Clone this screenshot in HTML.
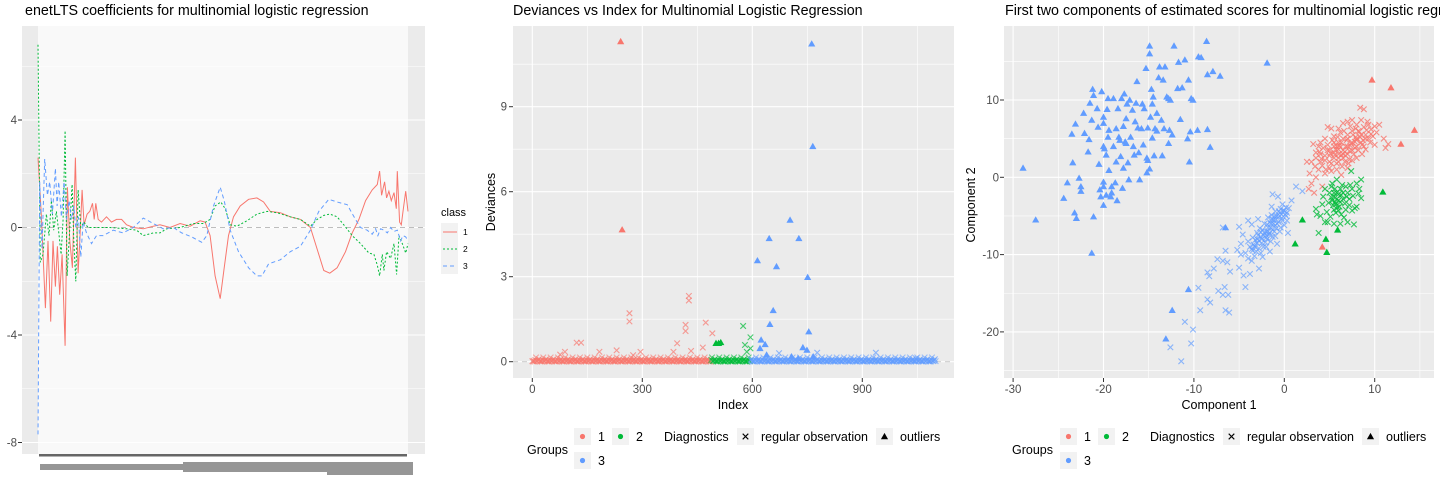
<!DOCTYPE html>
<html><head><meta charset="utf-8"><style>
html,body{margin:0;padding:0;background:#fff;}
svg{display:block;font-family:"Liberation Sans",sans-serif;}
</style></head><body>
<svg id="root" width="1440" height="480" viewBox="0 0 1440 480" xmlns="http://www.w3.org/2000/svg">
<g id="p1"></g>
<g id="p2"></g>
<g id="p3"></g>
</svg>
<script>
// ---------- Panel 1 data: coefficient index (0..1107) and values ----------
const c1Idx=[0,10,22,30,38,45,52,58,65,72,81,88,95,103,112,120,125,132,138,147,155,163,168,173,180,190,205,220,235,250,265,285,315,345,365,395,425,455,485,500,515,530,545,557,570,585,605,630,655,675,695,725,755,785,815,835,855,873,895,920,940,960,980,1000,1015,1022,1028,1037,1043,1050,1057,1065,1072,1075,1082,1087,1092,1100,1107];
const c1Val=[2.6,0.5,-3.0,-0.5,-3.5,-0.5,-2.2,-0.7,-2.5,-1.0,-4.4,1.5,-0.5,-1.5,2.6,-1.7,-0.5,1.4,0.1,0.5,0.6,0.9,0.3,0.9,0.3,0.2,0.4,0.2,0.3,0.3,0.1,0.0,-0.05,0.05,0.1,0.0,0.15,0.05,0.25,0.2,-0.3,-1.8,-2.65,-1.5,-0.3,0.4,0.8,1.05,1.1,0.95,0.6,0.55,0.4,0.3,0.0,-0.8,-1.6,-1.7,-1.5,-0.9,-0.2,0.3,1.0,1.4,1.6,2.1,1.2,1.7,1.1,1.35,1.0,1.3,0.7,2.1,0.2,0.1,0.6,1.35,0.6];
const c2Idx=[0,7,15,25,33,40,47,55,63,69,75,81,87,95,102,107,113,120,128,137,150,170,215,265,295,315,345,365,385,425,465,495,515,530,547,560,575,595,625,655,685,715,755,785,815,835,855,873,895,915,940,965,990,1005,1015,1022,1030,1035,1043,1055,1065,1073,1080,1090,1100,1107];
const c2Val=[6.8,-1.3,-1.0,0.5,-0.3,1.0,-0.1,0.6,-0.3,-1.0,0.3,3.6,-1.8,0.0,1.6,-0.5,-2.0,1.4,0.0,0.2,0.0,0.0,0.0,-0.05,-0.1,-0.3,-0.2,-0.2,-0.05,0.0,0.15,0.15,0.3,0.8,0.95,0.7,0.1,0.05,0.25,0.5,0.6,0.55,0.4,0.3,0.05,0.3,0.45,0.5,0.4,0.1,-0.3,-0.6,-0.95,-1.0,-1.4,-1.8,-1.0,-1.6,-0.9,-1.15,-0.6,-1.75,-0.3,-0.6,-0.95,-0.6];
const c3Idx=[0,5,12,20,28,35,43,52,57,62,70,78,85,93,100,107,113,121,128,135,145,160,175,195,225,255,285,315,345,375,405,430,460,490,505,525,545,557,575,600,630,655,670,690,725,755,785,815,840,870,895,925,950,965,985,1000,1010,1017,1025,1035,1045,1055,1065,1075,1085,1092,1100,1107];
const c3Val=[-7.7,1.7,-0.8,2.55,1.2,1.7,0.5,2.2,0.8,1.7,0.4,1.7,0.3,1.0,0.3,0.8,0.0,0.4,-1.1,0.2,-0.2,-0.6,-0.3,-0.3,-0.1,-0.2,0.0,0.35,0.15,-0.05,0.0,-0.2,-0.35,-0.55,-0.3,0.8,1.5,1.0,-0.1,-0.9,-1.5,-1.8,-1.8,-1.35,-1.2,-0.9,-0.7,-0.1,0.6,1.05,0.95,0.85,0.3,0.0,-0.1,-0.25,-0.05,-0.3,-0.05,-0.1,-0.2,0.0,-0.15,-0.1,-0.5,-0.3,-0.35,-0.5];
const p1YTicks=[4,0,-4,-8];

// ---------- Panel 2 data: deviances ----------
const p2XTicks=[0,300,600,900];
const p2YTicks=[0,3,6,9];
const groupRanges=[[0,487],[488,595],[596,1100]];
const baseDev=[0.02,0.05,0.01,0.08,0.03,0.12,0.0,0.04,0.06,0.02,0.15,0.01,0.03,0.07,0.02,0.1,0.05,0.0,0.09,0.03];
const devRegIdx=[121,133,265,265,427,427,418,418,473,491,395,465,385,433,183,89,230,295,76,275,575,595,580,595,585,673,777,937,1046];
const devRegVal=[0.67,0.67,1.71,1.42,2.32,2.16,1.3,1.08,1.38,1.0,0.65,0.5,0.35,0.38,0.35,0.35,0.4,0.35,0.25,0.23,1.26,0.86,0.59,0.47,0.35,0.3,0.32,0.32,0.12];
const devRegGrp=[1,1,1,1,1,1,1,1,1,1,1,1,1,1,1,1,1,1,1,1,2,2,2,2,2,3,3,3,3];
const devOutIdx=[241,245,501,508,514,762,765,703,727,646,614,666,751,657,648,754,624,635,621,738,749,639,707,766,725];
const devOutVal=[11.3,4.66,0.65,0.65,0.68,11.22,7.6,5.0,4.35,4.35,3.57,3.36,2.98,1.81,1.32,1.06,0.77,0.61,0.47,0.5,0.41,0.24,0.18,0.18,0.12];
const devOutGrp=[1,1,2,2,2,3,3,3,3,3,3,3,3,3,3,3,3,3,3,3,3,3,3,3,3];

// ---------- Panel 3 data: scores (component 1, component 2) ----------
const p3XTicks=[-30,-20,-10,0,10];
const p3YTicks=[10,0,-10,-20];
const blueOutC1=[-28.9,-27.5,-24.4,-24.0,-23.2,-23.0,-23.1,-23.5,-23.4,-22.7,-22.5,-22.5,-22.2,-22.1,-21.7,-21.6,-21.5,-21.3,-21.2,-21.1,-21.1,-21.3,-20.7,-20.6,-20.5,-20.4,-20.3,-20.2,-20.0,-20.0,-20.0,-19.9,-20.0,-20.0,-20.0,-19.7,-19.7,-19.6,-19.5,-19.4,-19.5,-19.4,-19.2,-19.1,-19.1,-18.9,-18.9,-18.7,-18.6,-18.6,-18.5,-18.4,-18.3,-18.2,-18.1,-18.0,-17.9,-17.8,-17.8,-17.7,-17.6,-17.5,-17.5,-17.4,-17.3,-17.2,-17.1,-17.0,-16.8,-16.7,-16.6,-16.5,-16.4,-16.3,-16.2,-16.1,-16.0,-15.8,-15.7,-15.6,-15.5,-15.3,-15.2,-15.2,-15.1,-15.1,-14.9,-14.9,-14.9,-14.8,-14.7,-14.6,-14.6,-14.5,-14.4,-14.3,-14.1,-14.1,-13.9,-13.8,-13.6,-13.5,-13.4,-13.3,-13.2,-13.0,-12.8,-12.8,-12.7,-12.6,-12.4,-12.2,-11.8,-11.7,-11.5,-11.3,-11.0,-10.7,-10.6,-10.5,-10.4,-10.3,-10.1,-9.6,-9.5,-9.2,-8.6,-8.5,-8.5,-8.2,-7.9,-7.1,-1.9,-6.5,-10.6,-12.4,-13.1];
const blueOutC2=[1.2,-5.5,-2.7,-0.7,-4.6,-5.3,6.9,5.6,1.9,-0.1,-1.2,-1.8,8.3,5.7,3.3,4.9,9.6,7.4,11.4,10.6,-5.1,-9.8,8.9,6.5,1.7,-1.6,-2.5,11.1,7.8,7.0,4.0,3.7,-0.6,-1.2,-3.6,-2.3,2.9,8.8,10.2,6.1,5.2,0.9,-2.5,-2.0,-1.2,10.2,4.0,-0.7,6.3,2.0,-3.0,8.9,5.2,4.8,2.7,10.2,-1.4,6.6,1.2,10.8,4.6,4.4,7.6,9.5,1.9,-0.3,10.0,5.2,8.7,4.0,2.9,7.2,9.6,12.4,6.4,3.2,-0.3,6.3,9.5,4.2,8.9,14.1,0.6,2.5,2.2,6.4,1.1,16.0,17.0,7.8,11.4,5.1,9.5,10.4,2.8,6.3,6.0,8.3,12.9,14.3,7.4,2.8,12.6,6.3,14.3,10.4,10.2,4.4,6.1,10.0,5.5,17.0,11.5,14.9,7.5,11.6,15.2,5.0,12.6,2.0,5.9,10.2,10.0,6.1,15.6,15.5,17.6,6.2,13.3,3.9,13.7,13.1,14.8,-6.5,-14.5,-17.2,-20.9];
const redOutC1=[9.7,11.8,14.4,12.9,4.2];
const redOutC2=[12.6,11.6,6.1,4.3,-9.0];
const greenOutC1=[10.9,2.0,1.2,4.6,5.9,4.7];
const greenOutC2=[-1.9,-5.5,-8.6,-8.0,-6.8,-9.7];
const blueRegC1=[-6.5,-6.8,-7.4,-6.3,-7.8,-8.5,-8.3,-6,-4.5,-4.3,-9.5,-7.3,-6.6,-6.8,-6.2,-8.2,-8.5,-9.3,-6.5,-6.1,-11,-10.1,-12.6,-10.3,-11.4,-5,-3.6,-4.8,-5,-4,-6.8,1.3,2,0.8,-2.8,-3.8,-3.5,-3.2,-3,-2.8,-2.5,-2.3,-2,-2,-1.8,-1.6,-1.5,-1.3,-1.2,-1,-0.8,-0.6,-0.5,-0.3,0,0.2,0.3,-2.7,-3,-3.5,-4,-3.8,-4.3,-4,-3.3,-2.6,-2,-1.5,-1,-0.5,0,0.3,0.5,-0.2,-1,-1.8,-2.2,-2.9,-1.4,-0.7,-1.3,-3.6,-4.6,-4.8,-2.4,-1.6,-0.8,0.4,-5.2,-1.1,-1.9,-2.6,-3.2,-0.4,-2.1,-1.7,-0.9,-1.4,-2.4,-3.4,
 -1.5,-1,-2,-0.5,-2.5,-1.2,-1.8,-0.8,-2.2,-0.3,-3,-1.6,-2.8,-0.6,0.1,-1.1,-2.3,-3.1,-1.4,-0.2,-1.9,-0.9,-2.6,-3.6,-1.3,-0.4,0.2,-0.1,-2.9,-3.3];
const blueRegC2=[-9.5,-10.8,-10.6,-11,-11.8,-12.3,-12.8,-12.2,-12.7,-14.2,-14.3,-14.7,-14.2,-15.2,-15.2,-16.2,-15.8,-17.2,-17.2,-17.5,-18.7,-19.7,-22,-21.5,-23.8,-11.7,-10.8,-10,-6.4,-5.6,-6.5,-1.2,-1.8,-3,-11.8,-12.5,-9.5,-9,-8.5,-9.2,-8,-7.5,-7.8,-7,-6.5,-7.2,-6,-6.8,-5.5,-6.2,-5,-5.8,-4.6,-5.3,-4.3,-5,-4.6,-6.6,-7.2,-7.8,-8.3,-9,-9.8,-10.5,-10.2,-9.8,-9,-8.3,-7.6,-7,-6.2,-5.6,-4,-3.5,-4.4,-5.2,-6,-5.4,-3.8,-2.5,-2.2,-6.1,-7.4,-8.6,-10.3,-9.6,-8.6,-7.2,-9.4,-5.1,-6.1,-7.1,-8.1,-4.1,-8.4,-7.4,-6.6,-4.9,-6.8,-8.7,
 -6.5,-5.5,-7.5,-5,-8.5,-6,-7,-6,-7.2,-4.8,-8,-5.8,-8.2,-4.4,-4.8,-7,-9,-9.6,-5.4,-5.6,-8,-5.1,-7.7,-9.3,-7.7,-6.5,-3.9,-4.3,-7.5,-8.9];
const redRegC1=[3,3.5,4,4.2,4.5,4.8,5,5.2,5.5,5.8,6,6,6.3,6.5,6.7,6.8,7,7.2,7.4,7.6,7.8,8,8.2,8.4,8.6,8.8,9,9.3,9.6,10,10.5,11,11.5,11.2,8.4,8.8,7,6.5,5.2,4.8,5.5,4.5,3.8,3.2,2.5,2.8,3.5,3,2.7,3.3,4.2,4.5,5.2,5.8,6.3,7,7.5,8,8.6,9,9.5,9.8,6.2,5.5,4,3.8,7.5,8.5,10,10.2,9.2,6,7.9,
 5,5.5,6,6.5,7,7.5,8,8.5,5,5.5,6,6.5,7,7.5,6,6.5,7,7.5,8,8.5,9,4,4.5,5,5.8,6.8,7.2,7.7,8.2,8.8,9.3,5.3,5.9,6.6,7.3,8,4.3,3.5,4.8,6.2,7.8,6.9,5.6,4.6,3.4,8.3,9.6,7.1,6.4,5.1,6.7,7.9,9.1,8.7,4.1,3.9,6.1,7.3,5.7,6.3];
const redRegC2=[2,2.5,3,1.5,2.2,3.5,2.8,1.8,3.2,4,2.5,3.6,4.5,3,2,4,5,3.4,4.4,5.5,3.8,4.8,6,5.2,4.2,6.5,5.5,6.8,6.2,6.6,6.8,5,4.3,3.8,9,8.8,7.2,7,6.3,6.5,5.3,5,4,4.3,2,0.5,0,-0.8,-1.5,-2,-1.2,0.5,0.8,1,0.3,1.2,2.2,2.5,3,3.6,4.5,5.3,5.8,4.5,4.5,1,7.4,7.4,4.2,5.8,7.2,6.3,6.3,
 2,2.5,3,3.5,4,4.5,5,5.5,3.5,4,4.5,5,5.5,6,2,2.5,3,3.5,4,4.5,5,2,2.8,1.2,1.8,2.8,2.3,3,3.5,4,5,4.8,5.2,6,6.6,6.8,3.8,3.2,4.2,3.9,4.6,4.8,2.9,1,1.4,5.9,5.6,1.8,1.4,3.1,3.3,5.2,6.1,4.8,2.4,3.3,4.1,4.1,3.6,2.9];
const greenRegC1=[4.5,5,5.3,5.5,5.7,5.8,6,6.2,6.5,6.8,7,7.3,7.5,8,8.3,8.5,8.5,8,7.8,7.5,6.8,6,5.5,4.2,3.6,3.5,4,4.8,5.5,6.2,7,7.7,4.5,3.8,5.8,7.4,6.3,5.6,6.1,5.2,
 5.5,5.8,6,6.2,5.4,5.9,6.5,6.7,5.2,4.9,6.9,5.6,6.4,7.2,5.7,6.3,4.7,7.6,8.2,5.3,4.3,6.6,5.1,7.2];
const greenRegC2=[-1.5,-2,-3,-2.5,-3.5,-2,-3,-1.5,-2.8,-1.2,-2,-1,-1.5,-0.8,-1.5,-0.3,-2.7,-3.8,-4,-4.3,-4.2,-4.3,-4.2,-3.5,-4.8,-4.1,-5,-5.8,-6,-6,-5.8,-6.1,-5.8,-7.2,-0.3,0.8,-2.3,-3.2,-3.8,-1.2,
 -2,-2.8,-2.2,-3.2,-3.6,-3.9,-2,-3.4,-2.6,-3.3,-2.5,-1.5,-1,-2.8,-4.6,-4.8,-4.5,-2.4,-2.1,-0.8,-2.5,-5.2,-5.1,-3.6];

const NS='http://www.w3.org/2000/svg';
const COL={1:'#F8766D',2:'#00BA38',3:'#619CFF'};
function mk(parent,tag,attrs,text){const e=document.createElementNS(NS,tag);for(const k in attrs)e.setAttribute(k,attrs[k]);if(text!==undefined)e.textContent=text;parent.appendChild(e);return e;}
function lin(d0,d1,r0,r1){return v=>r0+(v-d0)*(r1-r0)/(d1-d0);}
function xMark(g,x,y,c,op){const s=2.8;const p=mk(g,'path',{d:`M${x-s},${y-s}L${x+s},${y+s}M${x-s},${y+s}L${x+s},${y-s}`,stroke:c,'stroke-width':1.1,'stroke-opacity':op,fill:'none'});return p;}
function triMark(g,x,y,c){const s=3.6;const p=mk(g,'path',{d:`M${x},${y-s}L${x+s},${y+s*0.75}L${x-s},${y+s*0.75}Z`,fill:c});return p;}

// ================= Panel 1 =================
(function(){
const g=document.getElementById('p1');
const X=lin(0,1107,38,408), Y=lin(0,4,227.5,120);
const t=mk(g,'text',{x:25,y:15,'font-size':14.3,fill:'#000'},'enetLTS coefficients for multinomial logistic regression');

const bg=mk(g,'rect',{x:22,y:26,width:403,height:428,fill:'#EBEBEB'});

mk(g,'rect',{x:38,y:26,width:370,height:428,fill:'#F9F9F9'});
for(const v of [6,2,-2,-6]) mk(g,'line',{x1:22,x2:425,y1:Y(v),y2:Y(v),stroke:'#fff','stroke-width':0.6});
for(const v of p1YTicks){
  mk(g,'line',{x1:22,x2:425,y1:Y(v),y2:Y(v),stroke:'#fff','stroke-width':1.1});
  mk(g,'line',{x1:18,x2:22,y1:Y(v),y2:Y(v),stroke:'#333','stroke-width':1});
  const l=mk(g,'text',{x:17,y:Y(v)+4,'font-size':11.5,fill:'#4D4D4D','text-anchor':'end'},String(v));
  
}
const z=mk(g,'line',{x1:22,x2:425,y1:Y(0),y2:Y(0),stroke:'#BDBDBD','stroke-width':1,'stroke-dasharray':'5,4'});

const series=[[c1Idx,c1Val,COL[1],'none','class-1-line'],[c2Idx,c2Val,COL[2],'2,2','class-2-line'],[c3Idx,c3Val,COL[3],'4,3','class-3-line']];
for(const [xi,yv,c,da,nm] of series){
  const n=Math.min(xi.length,yv.length);let d='';
  for(let i=0;i<n;i++) d+=(i?'L':'M')+X(xi[i]).toFixed(1)+','+Y(yv[i]).toFixed(1);
  const p=mk(g,'path',{d,fill:'none',stroke:c,'stroke-width':1,'stroke-dasharray':da});
  
}
const tb=mk(g,'rect',{x:39,y:454,width:368,height:2.5,fill:'#666'});

const lb=mk(g,'g',{fill:'#6a6a6a',opacity:0.7});

mk(lb,'rect',{x:40,y:464,width:145,height:6});
mk(lb,'rect',{x:183,y:462,width:230,height:10});
mk(lb,'rect',{x:327,y:472,width:86,height:3});
// legend
const lg=mk(g,'g',{});
mk(lg,'text',{x:441,y:216,'font-size':11,fill:'#000'},'class');
mk(lg,'rect',{x:441,y:223,width:17,height:51,fill:'#F2F2F2'});
const das=['none','2,2','4,3'];
[1,2,3].forEach((k,i)=>{const yy=232+i*17;
  const e=mk(lg,'line',{x1:443,x2:457,y1:yy,y2:yy,stroke:COL[k],'stroke-width':1,'stroke-dasharray':das[i]});
  
  mk(lg,'text',{x:463,y:yy+3,'font-size':8.5,fill:'#000'},String(k));});
})();

// ================= Panel 2 =================
(function(){
const g=document.getElementById('p2');
const X=lin(0,300,532.3,642.3), Y=lin(0,3,361.7,276.7);
const t=mk(g,'text',{x:513,y:15,'font-size':14.3,fill:'#000'},'Deviances vs Index for Multinomial Logistic Regression');

const bg=mk(g,'rect',{x:513,y:26,width:441,height:352,fill:'#EBEBEB'});

for(const v of [1.5,4.5,7.5,10.5]) mk(g,'line',{x1:513,x2:954,y1:Y(v),y2:Y(v),stroke:'#fff','stroke-width':0.6});
for(const v of [150,450,750,1050]) mk(g,'line',{x1:X(v),x2:X(v),y1:26,y2:378,stroke:'#fff','stroke-width':0.6});
for(const v of p2YTicks){mk(g,'line',{x1:513,x2:954,y1:Y(v),y2:Y(v),stroke:'#fff','stroke-width':1.1});
  mk(g,'line',{x1:509,x2:513,y1:Y(v),y2:Y(v),stroke:'#333'});
  const l=mk(g,'text',{x:507,y:Y(v)+4,'font-size':11.5,fill:'#4D4D4D','text-anchor':'end'},String(v));
  }
for(const v of p2XTicks){mk(g,'line',{x1:X(v),x2:X(v),y1:26,y2:378,stroke:'#fff','stroke-width':1.1});
  mk(g,'line',{x1:X(v),x2:X(v),y1:378,y2:382,stroke:'#333'});
  const l=mk(g,'text',{x:X(v),y:393,'font-size':11.5,fill:'#4D4D4D','text-anchor':'middle'},String(v));
  }
const z=mk(g,'line',{x1:513,x2:954,y1:Y(0),y2:Y(0),stroke:'#CFCFCF','stroke-width':1.2,'stroke-dasharray':'5,4'});

const pts=mk(g,'g',{});
groupRanges.forEach((r,gi)=>{for(let k=r[0];k<=r[1];k+=2){xMark(pts,X(k),Y(baseDev[k%baseDev.length]),COL[gi+1],0.6);}});
for(let i=0;i<devRegIdx.length;i++) xMark(pts,X(devRegIdx[i]),Y(devRegVal[i]),COL[devRegGrp[i]],0.7);
for(let i=0;i<devOutIdx.length;i++) triMark(pts,X(devOutIdx[i]),Y(devOutVal[i]),COL[devOutGrp[i]]);
const xt=mk(g,'text',{x:733,y:409,'font-size':12.5,fill:'#000','text-anchor':'middle'},'Index');

const yt=mk(g,'text',{x:0,y:0,'font-size':12.5,fill:'#000','text-anchor':'middle',transform:'translate(495,202) rotate(-90)'},'Deviances');

legend(g,527,574);
})();

function legend(g,gx,kx){
  const lg=mk(g,'g',{'font-size':12.5,fill:'#000'});
  mk(lg,'text',{x:gx,y:454},'Groups');
  const keys=[[kx,428,1],[kx+38,428,2],[kx,452,3]];
  for(const [x,y,k] of keys){mk(lg,'rect',{x,y,width:17,height:17,fill:'#F2F2F2'});
    const c=mk(lg,'circle',{cx:x+8.5,cy:y+8.5,r:2.6,fill:COL[k]});
    mk(lg,'text',{x:x+24,y:y+13},String(k));}
  mk(lg,'text',{x:kx+90,y:441},'Diagnostics');
  mk(lg,'rect',{x:kx+163,y:428,width:17,height:17,fill:'#F2F2F2'});
  xMark(lg,kx+171.5,436.5,'#000',1);
  mk(lg,'text',{x:kx+187,y:441},'regular observation');
  mk(lg,'rect',{x:kx+302,y:428,width:17,height:17,fill:'#F2F2F2'});
  triMark(lg,kx+310.5,436.5,'#000');
  mk(lg,'text',{x:kx+326,y:441},'outliers');
}

// ================= Panel 3 =================
(function(){
const g=document.getElementById('p3');
const X=lin(0,10,1284.3,1374.7), Y=lin(0,10,177.3,100);
const t=mk(g,'text',{x:1005,y:15,'font-size':14.3,fill:'#000'},'First two components of estimated scores for multinomial logistic regression');

const bg=mk(g,'rect',{x:1004,y:26,width:430,height:352,fill:'#EBEBEB'});

for(const v of [15,5,-5,-15,-25]) mk(g,'line',{x1:1004,x2:1434,y1:Y(v),y2:Y(v),stroke:'#fff','stroke-width':0.6});
for(const v of [-25,-15,-5,5,15]) mk(g,'line',{x1:X(v),x2:X(v),y1:26,y2:378,stroke:'#fff','stroke-width':0.6});
for(const v of p3YTicks){mk(g,'line',{x1:1004,x2:1434,y1:Y(v),y2:Y(v),stroke:'#fff','stroke-width':1.1});
  mk(g,'line',{x1:1000,x2:1004,y1:Y(v),y2:Y(v),stroke:'#333'});
  const l=mk(g,'text',{x:999,y:Y(v)+4,'font-size':11.5,fill:'#4D4D4D','text-anchor':'end'},String(v));
  }
for(const v of p3XTicks){mk(g,'line',{x1:X(v),x2:X(v),y1:26,y2:378,stroke:'#fff','stroke-width':1.1});
  mk(g,'line',{x1:X(v),x2:X(v),y1:378,y2:382,stroke:'#333'});
  const l=mk(g,'text',{x:X(v),y:393,'font-size':11.5,fill:'#4D4D4D','text-anchor':'middle'},String(v));
  }
const pts=mk(g,'g',{});
for(let i=0;i<blueRegC1.length;i++) xMark(pts,X(blueRegC1[i]),Y(blueRegC2[i]),COL[3],0.7);
for(let i=0;i<redRegC1.length;i++) xMark(pts,X(redRegC1[i]),Y(redRegC2[i]),COL[1],0.8);
for(let i=0;i<greenRegC1.length;i++) xMark(pts,X(greenRegC1[i]),Y(greenRegC2[i]),COL[2],0.8);
for(let i=0;i<blueOutC1.length;i++) triMark(pts,X(blueOutC1[i]),Y(blueOutC2[i]),COL[3]);
for(let i=0;i<redOutC1.length;i++) triMark(pts,X(redOutC1[i]),Y(redOutC2[i]),COL[1]);
for(let i=0;i<greenOutC1.length;i++) triMark(pts,X(greenOutC1[i]),Y(greenOutC2[i]),COL[2]);
const xt=mk(g,'text',{x:1219,y:409,'font-size':12.5,fill:'#000','text-anchor':'middle'},'Component 1');

const yt=mk(g,'text',{x:0,y:0,'font-size':12.5,fill:'#000','text-anchor':'middle',transform:'translate(975,205) rotate(-90)'},'Component 2');

legend(g,1012,1060);
})();
</script>
</body></html>
